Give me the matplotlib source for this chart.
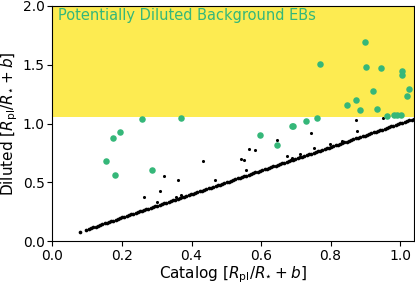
import matplotlib
matplotlib.use("Agg")
import matplotlib.pyplot as plt

# Targets whose diluted value equals the catalog value (lie on the 1:1 line)
undiluted_catalog = [
    0.079, 0.096, 0.105, 0.111, 0.117, 0.124, 0.130, 0.137, 0.143, 0.150, 0.156, 0.162,
    0.169, 0.175, 0.182, 0.188, 0.195, 0.201, 0.207, 0.214, 0.220, 0.227, 0.233, 0.240,
    0.246, 0.252, 0.258, 0.263, 0.270, 0.276, 0.283, 0.289, 0.295, 0.302, 0.308, 0.315,
    0.321, 0.327, 0.334, 0.340, 0.347, 0.353, 0.360, 0.366, 0.372, 0.379, 0.385, 0.392,
    0.398, 0.404, 0.411, 0.417, 0.424, 0.430, 0.437, 0.443, 0.449, 0.456, 0.462, 0.469,
    0.475, 0.481, 0.488, 0.494, 0.501, 0.507, 0.513, 0.520, 0.526, 0.533, 0.539, 0.546,
    0.552, 0.558, 0.565, 0.571, 0.578, 0.584, 0.590, 0.597, 0.603, 0.610, 0.616, 0.622,
    0.629, 0.635, 0.642, 0.648, 0.655, 0.661, 0.667, 0.674, 0.680, 0.687, 0.693, 0.699,
    0.706, 0.712, 0.719, 0.725, 0.731, 0.738, 0.744, 0.751, 0.757, 0.764, 0.770, 0.776,
    0.783, 0.789, 0.796, 0.802, 0.808, 0.815, 0.821, 0.828, 0.834, 0.840, 0.847, 0.853,
    0.860, 0.866, 0.873, 0.879, 0.885, 0.892, 0.898, 0.905, 0.911, 0.917, 0.924, 0.930,
    0.937, 0.943, 0.949, 0.956, 0.962, 0.969, 0.975, 0.981, 0.988, 0.994, 1.001, 1.007,
    1.013, 1.020, 1.026, 1.033, 1.039, 1.045,
]
undiluted_diluted = list(undiluted_catalog)

# Other (black) targets off the line
black_catalog = [0.873, 0.952, 0.743, 0.875, 0.753, 0.799, 0.832, 0.712, 0.688, 0.645,
                 0.565, 0.584, 0.542, 0.550, 0.558, 0.434, 0.361, 0.468, 0.676, 0.321,
                 0.310, 0.263, 0.300, 0.355, 0.369]
black_diluted = [1.033, 1.047, 0.916, 0.933, 0.796, 0.830, 0.852, 0.738, 0.710, 0.861,
                 0.781, 0.775, 0.695, 0.689, 0.607, 0.678, 0.521, 0.518, 0.721, 0.552,
                 0.423, 0.372, 0.332, 0.372, 0.392]

# Green targets
green_catalog = [0.899, 0.770, 0.902, 0.944, 1.005, 1.007, 1.025, 1.019, 0.921, 0.872,
                 0.847, 0.884, 0.935, 0.760, 0.962, 0.983, 0.992, 1.003, 0.729, 0.688,
                 0.692, 0.369, 0.597, 0.645, 0.258, 0.194, 0.173, 0.155, 0.181, 0.286]
green_diluted = [1.690, 1.505, 1.480, 1.476, 1.448, 1.410, 1.296, 1.233, 1.276, 1.196,
                 1.161, 1.116, 1.124, 1.050, 1.062, 1.073, 1.073, 1.073, 1.019, 0.981,
                 0.978, 1.050, 0.904, 0.821, 1.036, 0.930, 0.875, 0.678, 0.564, 0.607]

region_low = 1.057
region_high = 2.0
region_label = "Potentially Diluted Background EBs"

yellow = "#fde725"
green = "#35b779"

fig = plt.figure(figsize=(4.15, 2.84), dpi=100)
ax = fig.add_axes([0.1265, 0.151, 0.871, 0.828])

ax.axhspan(region_low, region_high, color=yellow, alpha=0.8, lw=0, zorder=0)
ax.scatter(undiluted_catalog, undiluted_diluted, s=7, color="black", lw=0, zorder=2)
ax.scatter(black_catalog, black_diluted, s=5, color="black", lw=0, zorder=2)
ax.scatter(green_catalog, green_diluted, s=22, color=green, lw=0, zorder=3)
ax.text(0.015, 1.915, region_label, color=green, fontsize=10.5, va="center", ha="left")

ax.set_xlim(0, 1.04)
ax.set_ylim(0, 2.0)
ax.set_xticks([0.0, 0.2, 0.4, 0.6, 0.8, 1.0])
ax.set_yticks([0.0, 0.5, 1.0, 1.5, 2.0])
ax.set_xlabel(r"Catalog [$R_{\rm pl}/R_{\star}+b$]", fontsize=11, labelpad=1)
ax.set_ylabel(r"Diluted [$R_{\rm pl}/R_{\star}+b$]", fontsize=11, labelpad=2)
ax.tick_params(labelsize=10, pad=2)

fig.savefig("out.png", dpi=100)
